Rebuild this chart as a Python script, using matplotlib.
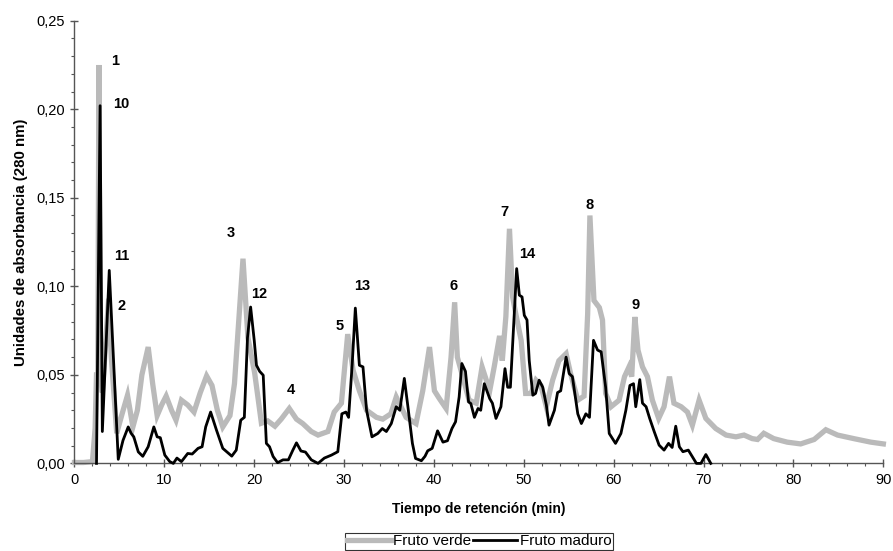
#!/usr/bin/env python3
"""HPLC chromatogram (280 nm) for green vs ripe fruit extracts."""

import matplotlib

matplotlib.use("Agg")
import matplotlib.pyplot as plt
from matplotlib.ticker import FuncFormatter, MultipleLocator

plt.rcParams["font.family"] = ["Liberation Sans", "DejaVu Sans"]

# Fruto verde (grey trace): retention time (min) and absorbance
verde_t = [
    0.0, 1.0, 2.0, 2.3, 2.45, 2.6, 2.72, 2.85, 3.1, 3.5, 3.8, 4.1, 4.7, 5.3, 5.9,
    6.5, 7.0, 7.5, 8.2, 8.7, 9.2, 9.7, 10.2, 10.8, 11.3, 11.9, 12.6, 13.3, 14.0,
    14.7, 15.3, 15.9, 16.5, 17.3, 17.8, 18.2, 18.75, 19.3, 20.05, 20.8, 21.5, 22.3,
    23.0, 23.9, 24.7, 25.4, 26.35, 27.1, 28.2, 28.9, 29.7, 30.4, 31.0, 31.7, 32.5,
    33.6, 34.3, 35.2, 35.8, 36.9, 38.0, 38.75, 39.5, 40.05, 40.6, 41.35, 41.9, 42.3,
    42.6, 43.2, 43.9, 44.7, 45.35, 46.2, 46.7, 47.3, 47.6, 48.0, 48.4, 48.75, 49.1,
    49.7, 50.2, 50.8, 51.35, 51.9, 52.5, 53.2, 53.9, 54.7, 55.2, 56.0, 56.7, 57.1,
    57.35, 57.8, 58.4, 58.75, 59.1, 59.7, 60.6, 61.2, 61.7, 62.0, 62.35, 62.7, 63.2,
    63.75, 64.3, 65.0, 65.6, 66.2, 66.7, 67.5, 68.2, 68.75, 69.5, 70.25, 71.35, 72.5,
    73.6, 74.5, 75.4, 76.0, 76.7, 77.8, 79.3, 80.8, 82.3, 83.6, 84.9, 86.7, 88.6, 90.0,
]
verde_abs = [
    0.0005, 0.0005, 0.001, 0.02, 0.05, 0.05, 0.225, 0.05, 0.04, 0.07, 0.093, 0.06,
    0.017, 0.028, 0.0385, 0.0206, 0.03, 0.05, 0.0657, 0.045, 0.027, 0.033, 0.038,
    0.03, 0.0244, 0.0357, 0.033, 0.029, 0.04, 0.0494, 0.044, 0.030, 0.0206, 0.027,
    0.045, 0.075, 0.1156, 0.071, 0.051, 0.0227, 0.024, 0.021, 0.025, 0.031, 0.025,
    0.0225, 0.018, 0.016, 0.018, 0.029, 0.034, 0.073, 0.0526, 0.041, 0.030, 0.026,
    0.025, 0.028, 0.0375, 0.026, 0.0225, 0.041, 0.0657, 0.041, 0.0366, 0.031, 0.060,
    0.091, 0.060, 0.049, 0.0357, 0.034, 0.0545, 0.041, 0.0545, 0.072, 0.058, 0.083,
    0.1325, 0.094, 0.0845, 0.0695, 0.0395, 0.0395, 0.047, 0.044, 0.032, 0.047, 0.058,
    0.062, 0.0507, 0.0357, 0.038, 0.0845, 0.140, 0.092, 0.088, 0.081, 0.0395, 0.032,
    0.0357, 0.049, 0.0545, 0.049, 0.0827, 0.064, 0.0545, 0.049, 0.0357, 0.0254, 0.032,
    0.049, 0.034, 0.032, 0.029, 0.0216, 0.0357, 0.0254, 0.0197, 0.016, 0.015, 0.016,
    0.014, 0.0135, 0.017, 0.014, 0.012, 0.011, 0.0135, 0.019, 0.016, 0.014, 0.012, 0.011,
]

# Fruto maduro (black trace)
maduro_t = [
    2.45, 2.85, 3.1, 3.87, 4.87, 5.4, 5.98, 6.3, 6.6, 7.1, 7.6, 8.2, 8.83, 9.2, 9.55,
    10.05, 10.6, 11.0, 11.4, 11.9, 12.6, 13.1, 13.75, 14.2, 14.6, 15.15, 15.8, 16.5,
    17.5, 18.0, 18.5, 18.9, 19.25, 19.6, 20.0, 20.25, 20.6, 21.0, 21.35, 21.7, 22.1,
    22.6, 23.2, 23.8, 24.3, 24.7, 25.2, 25.7, 26.35, 27.1, 27.8, 28.6, 29.3, 29.75,
    30.2, 30.5, 30.9, 31.25, 31.7, 32.1, 32.5, 33.1, 33.75, 34.25, 34.7, 35.25, 35.8,
    36.2, 36.7, 37.1, 37.6, 37.95, 38.6, 39.0, 39.3, 39.8, 40.4, 41.0, 41.5, 42.0,
    42.4, 42.8, 43.1, 43.5, 43.85, 44.1, 44.5, 44.9, 45.2, 45.6, 46.2, 46.5, 46.9,
    47.45, 47.9, 48.2, 48.5, 48.9, 49.2, 49.5, 49.8, 50.05, 50.35, 50.6, 51.0, 51.3,
    51.7, 52.1, 52.5, 52.8, 53.4, 53.75, 54.1, 54.7, 55.05, 55.4, 56.0, 56.4, 56.9,
    57.3, 57.75, 58.2, 58.6, 59.1, 59.5, 60.2, 60.8, 61.35, 61.8, 62.2, 62.45, 62.9,
    63.2, 63.6, 64.0, 64.5, 65.05, 65.6, 66.1, 66.5, 66.9, 67.3, 67.7, 68.3, 68.75,
    69.2, 69.7, 70.25, 70.8,
]
maduro_abs = [
    0.0, 0.202, 0.018, 0.109, 0.0023, 0.013, 0.0206, 0.017, 0.015, 0.0065, 0.004,
    0.0094, 0.0206, 0.015, 0.0145, 0.0047, 0.001, 0.0, 0.003, 0.001, 0.0056, 0.0053,
    0.0085, 0.0094, 0.0206, 0.029, 0.0188, 0.0085, 0.0041, 0.0075, 0.0244, 0.026,
    0.071, 0.0883, 0.0695, 0.0554, 0.052, 0.0498, 0.0113, 0.0094, 0.0039, 0.0004,
    0.002, 0.002, 0.0075, 0.0116, 0.007, 0.0064, 0.002, 0.0, 0.003, 0.0047, 0.0066,
    0.028, 0.029, 0.026, 0.056, 0.0877, 0.0554, 0.0545, 0.030, 0.015, 0.0169, 0.0197,
    0.018, 0.0225, 0.032, 0.030, 0.048, 0.032, 0.0113, 0.0028, 0.0015, 0.004, 0.0071,
    0.0085, 0.0184, 0.012, 0.0128, 0.0197, 0.0235, 0.0375, 0.0564, 0.052, 0.0347,
    0.0338, 0.026, 0.031, 0.030, 0.045, 0.0366, 0.034, 0.0254, 0.032, 0.0535, 0.043,
    0.043, 0.081, 0.110, 0.095, 0.094, 0.0836, 0.081, 0.058, 0.0385, 0.0395, 0.047,
    0.043, 0.033, 0.0216, 0.030, 0.040, 0.041, 0.060, 0.0507, 0.049, 0.028, 0.0225,
    0.028, 0.026, 0.0695, 0.064, 0.063, 0.043, 0.0169, 0.0113, 0.0169, 0.030, 0.044,
    0.045, 0.032, 0.0473, 0.034, 0.032, 0.0254, 0.018, 0.0103, 0.0075, 0.0113, 0.009,
    0.021, 0.0094, 0.0066, 0.0075, 0.0037, 0.0, 0.0, 0.005, 0.0,
]

# Peak numbers and where they are written (min, absorbance)
peak_labels = ["1", "10", "11", "2", "3", "12", "4", "5", "13", "6", "7", "14", "8", "9"]
peak_t = [4.5, 5.25, 5.25, 5.25, 17.4, 20.6, 24.1, 29.5, 32.0, 42.2, 47.8, 50.4, 57.3, 62.4]
peak_abs = [0.227, 0.203, 0.117, 0.089, 0.130, 0.0955, 0.0413, 0.0776, 0.100, 0.100,
            0.142, 0.118, 0.146, 0.0892]

series_labels = ["Fruto verde", "Fruto maduro"]


def comma_fmt(value, _pos):
    return f"{value:.2f}".replace(".", ",")


def main():
    fig = plt.figure(figsize=(8.93, 5.51), dpi=100)
    ax = fig.add_axes([0.0834, 0.159, 0.9058, 0.8034])

    ax.plot(verde_t, verde_abs, color="#bababa", lw=3.8, solid_joinstyle="miter",
            label=series_labels[0], clip_on=False, zorder=2)
    ax.plot(maduro_t, maduro_abs, color="black", lw=2.0, label=series_labels[1],
            clip_on=False, zorder=3)

    for text, t, v in zip(peak_labels, peak_t, peak_abs):
        ax.text(t, v, text, ha="center", va="center", fontsize=10.5, fontweight="bold")

    ax.set_xlim(0, 90)
    ax.set_ylim(0, 0.25)
    ax.xaxis.set_major_locator(MultipleLocator(10))
    ax.xaxis.set_minor_locator(MultipleLocator(2))
    ax.yaxis.set_major_locator(MultipleLocator(0.05))
    ax.yaxis.set_minor_locator(MultipleLocator(0.01))
    ax.yaxis.set_major_formatter(FuncFormatter(comma_fmt))

    for side in ("top", "right"):
        ax.spines[side].set_visible(False)
    for side in ("left", "bottom"):
        ax.spines[side].set_color("#555555")
        ax.spines[side].set_linewidth(1.0)
    ax.tick_params(which="major", direction="inout", length=6, width=1.0,
                   color="#555555", labelsize=10.5, pad=4)
    ax.tick_params(which="minor", direction="out", length=2.5, width=0.8, color="#555555")

    ax.set_xlabel("Tiempo de retención (min)", fontsize=10, fontweight="bold", va="center")
    ax.set_ylabel("Unidades de absorbancia (280 nm)", fontsize=10.8, fontweight="bold",
                  va="center")
    ax.xaxis.set_label_coords(0.5, -0.103)
    ax.yaxis.set_label_coords(-0.0655, 0.5)

    leg = ax.legend(loc="lower center", bbox_to_anchor=(0.5, -0.2), ncol=2,
                    fontsize=11, frameon=True, fancybox=False, handlelength=2.9,
                    handletextpad=0.15, columnspacing=0.1, borderpad=0.1,
                    borderaxespad=0.0)
    leg.get_frame().set_edgecolor("black")
    leg.get_frame().set_linewidth(0.8)
    # anchor the box bottom at the figure edge
    bottom = (0.159 * 5.51 * 100 - 1) / (0.8034 * 5.51 * 100)
    leg.set_bbox_to_anchor((0.5, -bottom), transform=ax.transAxes)

    fig.savefig("out.png", dpi=100)
    plt.close(fig)


if __name__ == "__main__":
    main()
